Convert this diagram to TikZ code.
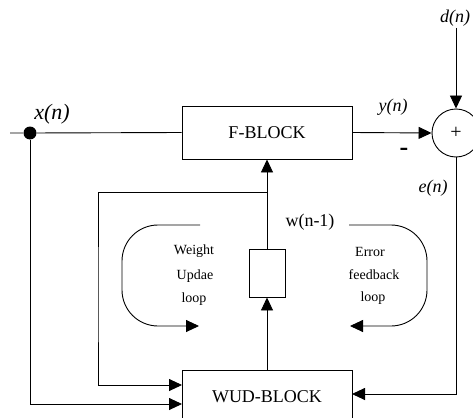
\documentclass[tikz,border=0pt]{standalone}
\usepackage{fontspec}
\setmainfont{Liberation Serif}
\usetikzlibrary{arrows.meta}
\begin{document}
\begin{tikzpicture}[x=1pt,y=-1pt,
  line width=0.9pt,
  arr/.style={-{Triangle[length=13pt,width=12pt]}},
  blockbox/.style={draw, minimum width=170pt, minimum height=53pt, inner sep=0pt, font=\fontsize{18}{20}\selectfont},
  siglabel/.style={font=\fontsize{18}{20}\selectfont\itshape, inner sep=0pt},
  looptext/.style={font=\fontsize{14}{16}\selectfont, inner sep=0pt}]
\useasboundingbox (0,0) rectangle (473,417);
\clip (0,0) rectangle (473,417);
\node[blockbox] (F) at (267,132.5) {F-BLOCK};
\node[blockbox, minimum height=54pt] (W) at (267,397) {WUD-BLOCK};
\node[draw, minimum width=36pt, minimum height=48pt, inner sep=0pt] (D) at (267,273) {};
\node[draw, circle, minimum size=48pt, inner sep=0pt, font=\fontsize{20}{22}\selectfont] (S) at (456,133) {+};
\node[fill, circle, minimum size=13pt, inner sep=0pt] (dot) at (30,133) {};
\coordinate (xin) at (10,133);
\coordinate (dtop) at (456,28);
\coordinate (J) at (267,192);
\coordinate (Wr) at (352,394);
\coordinate (Wl1) at (182,385);
\coordinate (Wl2) at (182,404);
% connectors
\draw (xin) -- (dot) -- (F.west);
\draw[arr] (F.east) -- (S.west);
\draw[arr] (dtop) -- (S.north);
\draw[arr] (S.south) |- (Wr);
\draw[arr] (dot) |- (Wl2);
\draw[arr] (J) -- (F.south);
\draw[arr] (J) -| (98,300) |- (Wl1);
\draw[arr] (W.north) -- (D.south);
\draw (D.north) -- (J);
% loops
\draw[arr, rounded corners=36pt] (200,225) -- (122,225) -- (122,326) -- (199,326);
\draw[arr, rounded corners=36pt] (349,225) -- (427,225) -- (427,326) -- (350,326);
% labels
\node[siglabel, font=\fontsize{22}{24}\selectfont\itshape] (lx) at (52,114) {x(n)};
\node[siglabel] (ly) at (393,107) {y(n)};
\node[siglabel] (ld) at (455,18) {d(n)};
\node[siglabel] (le) at (433,188) {e(n)};
\node[inner sep=0pt, font=\fontsize{26}{28}\selectfont\bfseries] (lm) at (404,152) {-};
\node[inner sep=0pt, font=\fontsize{18}{20}\selectfont] (lw) at (310,222) {w(n-1)};
\node[looptext] (t1) at (194,251) {Weight};
\node[looptext] (t2) at (195,276) {Updae};
\node[looptext] (t3) at (194,299) {loop};
\node[looptext] (t4) at (370,252) {Error};
\node[looptext] (t5) at (374,275) {feedback};
\node[looptext] (t6) at (373,298) {loop};
\end{tikzpicture}
\end{document}
